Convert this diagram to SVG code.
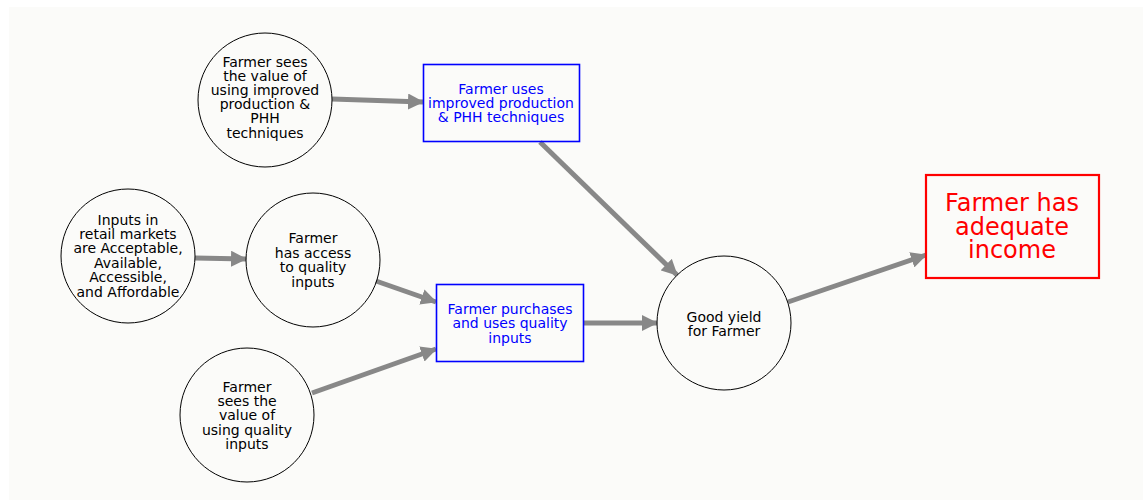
<svg xmlns="http://www.w3.org/2000/svg" width="1143" height="500" viewBox="0 0 1143 500">
  <style>
    .node circle { fill: none; stroke: #000000; stroke-width: 1; }
    .box rect { fill: none; stroke: #0000ff; stroke-width: 1.6; }
    .goal rect { fill: none; stroke: #ff0000; stroke-width: 2.2; }
    text { font-family: "DejaVu Sans", "Liberation Sans", sans-serif; font-size: 14px; text-anchor: middle; fill: #000000; }
    .box text { fill: #0000ff; }
    .goal text { fill: #ff0000; font-size: 24px; }
    .edges line { stroke: #888888; stroke-width: 5; marker-end: url(#arrow); }
  </style>
  <defs>
    <marker id="arrow" markerUnits="userSpaceOnUse" markerWidth="16" markerHeight="16" viewBox="0 0 16 16" refX="15" refY="8" orient="auto">
      <path d="M0,0 L16,8 L0,16 Z" fill="#888888"/>
    </marker>
  </defs>

  <!-- canvas -->
  <rect x="9" y="7" width="1134" height="493" fill="#fbfbf9"/>

  <!-- connectors -->
  <g class="edges">
    <line x1="332" y1="99" x2="423" y2="102"/>
    <line x1="540" y1="142" x2="677" y2="275"/>
    <line x1="195" y1="258" x2="246" y2="259"/>
    <line x1="376" y1="281" x2="436" y2="302"/>
    <line x1="312" y1="393" x2="436" y2="349"/>
    <line x1="583" y1="323" x2="657" y2="323"/>
    <line x1="788" y1="302" x2="926" y2="255"/>
  </g>

  <g id="value-improved" class="node">
    <circle cx="265" cy="100" r="67"/>
    <text x="265" y="67">Farmer sees</text>
    <text x="265" y="81">the value of</text>
    <text x="265" y="95">using improved</text>
    <text x="265" y="109">production &amp;</text>
    <text x="265" y="123">PHH</text>
    <text x="265" y="138">techniques</text>
  </g>

  <g id="uses-improved" class="box">
    <rect x="423.5" y="64.5" width="156" height="77"/>
    <text x="501" y="94">Farmer uses</text>
    <text x="501" y="108">improved production</text>
    <text x="501" y="122">&amp; PHH techniques</text>
  </g>

  <g id="inputs-retail" class="node">
    <circle cx="128" cy="256" r="67"/>
    <text x="128" y="225">Inputs in</text>
    <text x="128" y="239">retail markets</text>
    <text x="128" y="253">are Acceptable,</text>
    <text x="128" y="268">Available,</text>
    <text x="128" y="282">Accessible,</text>
    <text x="128" y="297">and Affordable</text>
  </g>

  <g id="access-inputs" class="node">
    <circle cx="313" cy="260" r="67"/>
    <text x="313" y="243">Farmer</text>
    <text x="313" y="258">has access</text>
    <text x="313" y="272">to quality</text>
    <text x="313" y="287">inputs</text>
  </g>

  <g id="purchases-inputs" class="box">
    <rect x="436.5" y="284.5" width="147" height="77"/>
    <text x="510" y="314">Farmer purchases</text>
    <text x="510" y="328">and uses quality</text>
    <text x="510" y="343">inputs</text>
  </g>

  <g id="value-quality" class="node">
    <circle cx="247" cy="415" r="67"/>
    <text x="247" y="392">Farmer</text>
    <text x="247" y="406">sees the</text>
    <text x="247" y="420">value of</text>
    <text x="247" y="435">using quality</text>
    <text x="247" y="449">inputs</text>
  </g>

  <g id="good-yield" class="node">
    <circle cx="724" cy="323" r="67"/>
    <text x="724" y="322">Good yield</text>
    <text x="724" y="336">for Farmer</text>
  </g>

  <g id="adequate-income" class="goal">
    <rect x="926" y="175" width="173" height="103"/>
    <text x="1012" y="211">Farmer has</text>
    <text x="1012" y="235">adequate</text>
    <text x="1012" y="258">income</text>
  </g>
</svg>
